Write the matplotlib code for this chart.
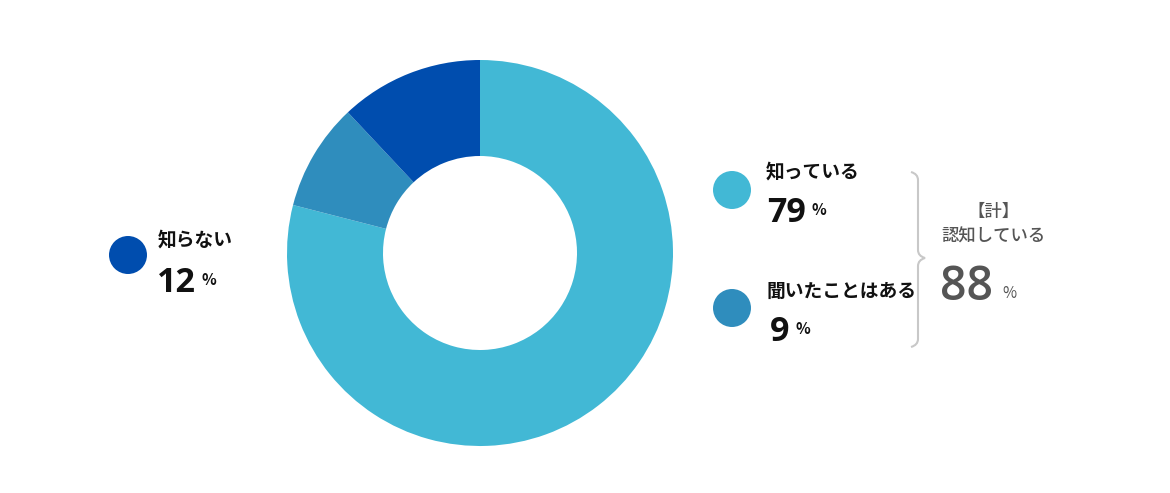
import matplotlib.pyplot as plt
from matplotlib.patches import Circle, PathPatch
from matplotlib.path import Path

plt.rcParams['font.family'] = ['Noto Sans CJK JP', 'DejaVu Sans']

labels = ["知っている", "聞いたことはある", "知らない"]
values = [79, 9, 12]
colors = ["#42b8d5", "#2f8dbd", "#004dae"]
total_label = ["【計】", "認知している"]
total_value = values[0] + values[1]

W, H = 1170, 493
fig = plt.figure(figsize=(W / 100, H / 100), dpi=100)
ax = fig.add_axes([0, 0, 1, 1])

# donut, drawn in pixel coords (y measured from the bottom)
ax.pie(values, colors=colors, startangle=90, counterclock=False,
       center=(480, H - 253), radius=193,
       wedgeprops=dict(width=96, linewidth=0))
ax.set_xlim(0, W)
ax.set_ylim(0, H)
ax.set_aspect('equal')
ax.axis('off')

# legend entries: (dot x, dot y, text x, label y, number x, number y)
spots = [(732, 190, 766, 172, 767, 213), (732, 308, 766, 291, 770, 332),
         (128, 255, 158, 240, 157, 283)]
for (dx, dy, tx, ly, nx, ny), lab, val, col in zip(spots, labels, values, colors):
    ax.add_patch(Circle((dx, H - dy), 19, color=col, lw=0))
    ax.text(tx, H - ly, lab, fontsize=13.5, fontweight='bold', color='#111111',
            ha='left', va='center')
    num = ax.text(nx, H - ny, str(val), fontsize=24.5, fontweight='bold',
                  family='Open Sans', color='#111111', ha='left', va='center')
    fig.canvas.draw()
    bb = num.get_window_extent()
    ax.text(bb.x1 + 6, H - ny + 3, "%", fontsize=11, fontweight='bold',
            color='#111111', ha='left', va='center')

# brace
verts = [(911, H - 172), (918, H - 174), (918, H - 180),
         (918, H - 250), (918, H - 256), (925, H - 258),
         (918, H - 260), (918, H - 266), (918, H - 339),
         (918, H - 345), (911, H - 347)]
codes = [Path.MOVETO, Path.CURVE3, Path.CURVE3,
         Path.LINETO, Path.CURVE3, Path.CURVE3,
         Path.CURVE3, Path.CURVE3, Path.LINETO,
         Path.CURVE3, Path.CURVE3]
ax.add_patch(PathPatch(Path(verts, codes), fill=False, edgecolor='#c8c8c8', lw=1.5))

# total
ax.text(994, H - 212, total_label[0], fontsize=12.5, color='#555555',
        ha='center', va='center', fontweight='medium')
ax.text(994, H - 237, total_label[1], fontsize=12.5, color='#555555',
        ha='center', va='center', fontweight='medium')
t = ax.text(940, H - 287, str(total_value), fontsize=33.5, color='#555555',
            family='Open Sans', ha='left', va='center', fontweight='semibold')
fig.canvas.draw()
bb = t.get_window_extent()
ax.text(bb.x1 + 9, H - 293, "%", fontsize=11, color='#555555',
        ha='left', va='center')

fig.savefig("out.png", dpi=100)
